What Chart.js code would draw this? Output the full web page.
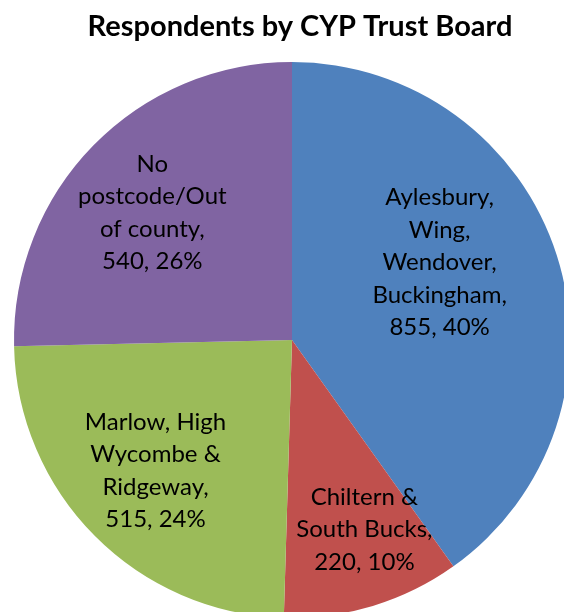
<!DOCTYPE html>
<html>
<head>
<meta charset="utf-8">
<script src="https://cdn.jsdelivr.net/npm/chart.js@4/dist/chart.umd.min.js"></script>
<style>
  html, body { margin: 0; padding: 0; background: #fff; overflow: hidden; }
  #wrap { position: relative; width: 600px; height: 680px; }
</style>
</head>
<body>
<div id="wrap"><canvas id="chartPie"></canvas></div>
<script>
  // data
  const categories = [
    'Aylesbury, Wing, Wendover, Buckingham',
    'Chiltern & South Bucks',
    'Marlow, High Wycombe & Ridgeway',
    'No postcode/Out of county'
  ];
  const categoryLines = [
    ['Aylesbury,', 'Wing,', 'Wendover,', 'Buckingham,'],
    ['Chiltern &', 'South Bucks,'],
    ['Marlow, High', 'Wycombe &', 'Ridgeway,'],
    ['No', 'postcode/Out', 'of county,']
  ];
  const respondents = [855, 220, 515, 540];
  const percentLabels = [40, 10, 24, 26];
  const chartTitle = 'Respondents by CYP Trust Board';

  const sliceColors = ['#4F81BD', '#C0504D', '#9BBB59', '#8064A2'];
  // label placement: [angle shift in degrees, fraction of radius]
  const labelPlace = [[-10, 0.60], [-4, 0.73], [1, 0.68], [-2, 0.68]];

  const labelFont = '24px Lato, "Open Sans", sans-serif';
  const lineStep = 32.5;

  const pieLabels = {
    id: 'pieLabels',
    afterDraw: function (chart) {
      var ctx = chart.ctx;
      ctx.save();
      // title
      ctx.fillStyle = '#000';
      ctx.font = 'bold 29px Lato, "Open Sans", sans-serif';
      ctx.textAlign = 'center';
      ctx.textBaseline = 'middle';
      ctx.fillText(chartTitle, 300, 27);

      // slice labels
      ctx.font = labelFont;
      var meta = chart.getDatasetMeta(0);
      meta.data.forEach(function (arc, i) {
        var p = arc.getProps(['x', 'y', 'startAngle', 'endAngle', 'outerRadius'], true);
        var mid = (p.startAngle + p.endAngle) / 2 + labelPlace[i][0] * Math.PI / 180;
        var r = p.outerRadius * labelPlace[i][1];
        var cx = p.x + Math.cos(mid) * r;
        var cy = p.y + Math.sin(mid) * r;
        var lines = categoryLines[i].concat([respondents[i] + ', ' + percentLabels[i] + '%']);
        var top = cy - (lines.length - 1) * lineStep / 2;
        lines.forEach(function (ln, k) {
          ctx.fillText(ln, cx, top + k * lineStep);
        });
      });
      ctx.restore();
    }
  };

  new Chart(document.getElementById('chartPie'), {
    type: 'pie',
    data: {
      labels: categories,
      datasets: [{
        data: respondents,
        backgroundColor: sliceColors,
        borderWidth: 0
      }]
    },
    options: {
      responsive: true,
      maintainAspectRatio: false,
      animation: false,
      layout: { padding: { left: 14, right: 30, top: 62, bottom: 62 } },
      plugins: {
        legend: { display: false },
        tooltip: { enabled: false },
        title: { display: false }
      }
    },
    plugins: [pieLabels]
  });
</script>
</body>
</html>
